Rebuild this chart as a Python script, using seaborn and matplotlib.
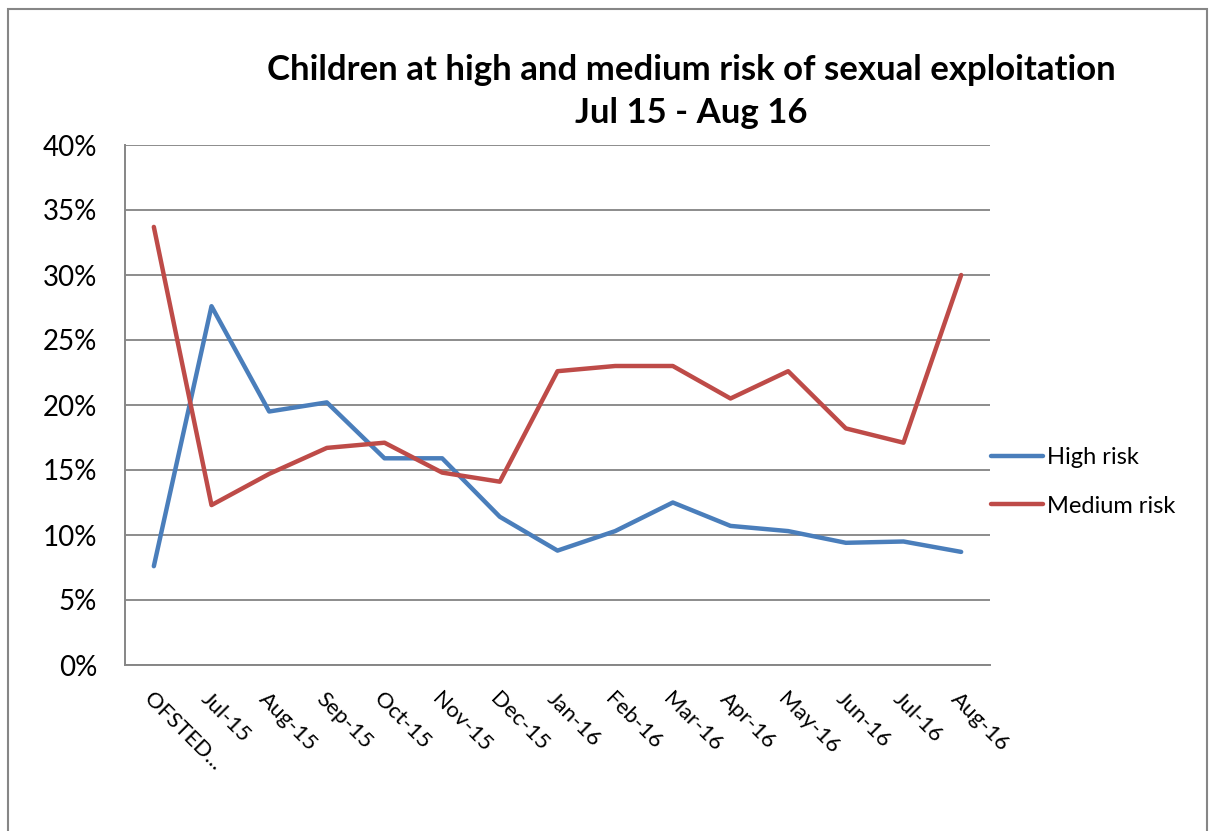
import pandas as pd
import matplotlib
matplotlib.use('Agg')
import matplotlib.pyplot as plt
import matplotlib.ticker as mtick
from matplotlib.patches import Rectangle
import seaborn as sns

# Data (percent)
months = ['OFSTED...', 'Jul-15', 'Aug-15', 'Sep-15', 'Oct-15', 'Nov-15', 'Dec-15',
          'Jan-16', 'Feb-16', 'Mar-16', 'Apr-16', 'May-16', 'Jun-16', 'Jul-16', 'Aug-16']
high_risk = [7.6, 27.6, 19.5, 20.2, 15.9, 15.9, 11.4, 8.8, 10.3, 12.5, 10.7, 10.3, 9.4, 9.5, 8.7]
medium_risk = [33.7, 12.3, 14.7, 16.7, 17.1, 14.8, 14.1, 22.6, 23.0, 23.0, 20.5, 22.6, 18.2, 17.1, 30.0]

df = pd.DataFrame({'Month': months * 2,
                   'Value': high_risk + medium_risk,
                   'Series': ['High risk'] * len(months) + ['Medium risk'] * len(months)})
df['pos'] = df.groupby('Series').cumcount()

sns.set_style('white')
plt.rcParams['font.family'] = ['Lato', 'DejaVu Sans']
plt.rcParams['text.color'] = 'black'
plt.rcParams['xtick.color'] = 'black'
plt.rcParams['ytick.color'] = 'black'

fig = plt.figure(figsize=(12.14, 8.31), dpi=100)
ax = fig.add_axes([125 / 1214, 1 - 665 / 831, 865 / 1214, 520 / 831])

palette = {'High risk': '#4A7EBB', 'Medium risk': '#BE4B48'}
sns.lineplot(data=df, x='pos', y='Value', hue='Series', palette=palette,
             linewidth=3.2, ax=ax, legend=True)

ax.set_xlim(-0.5, len(months) - 0.5)
ax.set_ylim(0, 40)
ax.set_yticks(range(0, 41, 5))
ax.yaxis.set_major_formatter(mtick.PercentFormatter(decimals=0))
ax.set_xlabel('')
ax.set_ylabel('')

# labels at the points, tick marks on the category boundaries
ax.set_xticks(range(len(months)))
ax.set_xticklabels(months, rotation=-45, ha='left', va='top',
                   rotation_mode='anchor', fontsize=16)
ax.set_xticks([i - 0.5 for i in range(len(months) + 1)], minor=True)
ax.tick_params(axis='x', which='major', length=0, pad=17)
ax.tick_params(axis='x', which='minor', length=6, width=1.3, color='#868686')
ax.tick_params(axis='y', length=6, width=1.3, color='#868686', labelsize=20, pad=14)

ax.yaxis.grid(True, color='#8C8C8C', linewidth=1.4)
ax.xaxis.grid(False)
for s in ['top', 'right']:
    ax.spines[s].set_visible(False)
for s in ['left', 'bottom']:
    ax.spines[s].set_color('#868686')
    ax.spines[s].set_linewidth(1.4)

leg = ax.legend(loc='center left', bbox_to_anchor=(0.99, 0.352), frameon=False,
                fontsize=17, handlelength=2.2, labelspacing=1.15, handletextpad=0.2,
                borderaxespad=0.0)
for line in leg.get_lines():
    line.set_linewidth(3.2)

fig.text(691 / 1214, 1 - 70 / 831, 'Children at high and medium risk of sexual exploitation',
         ha='center', va='center', fontsize=25, fontweight='bold')
fig.text(691 / 1214, 1 - 113 / 831, 'Jul 15 - Aug 16',
         ha='center', va='center', fontsize=25, fontweight='bold')

# outer chart border
fig.patches.append(Rectangle((8 / 1214, -0.05), 1199 / 1214, 1.05 - 9 / 831,
                             transform=fig.transFigure, fill=False,
                             edgecolor='#868686', linewidth=1.5))

fig.savefig('out.png', dpi=100)
